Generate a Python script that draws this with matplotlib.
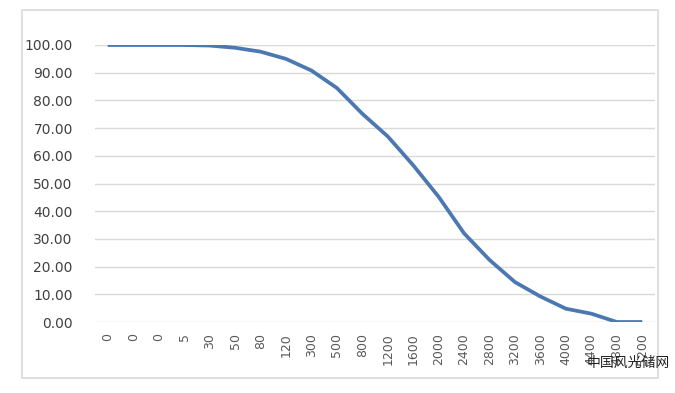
import matplotlib
matplotlib.use("Agg")
import matplotlib.pyplot as plt
from matplotlib.patches import Rectangle

categories = ["0", "0", "0", "5", "30", "50", "80", "120", "300", "500", "800",
              "1200", "1600", "2000", "2400", "2800", "3200", "3600", "4000",
              "4400", "4800", "5200"]
values = [100.0, 100.0, 100.0, 100.0, 99.8, 99.0, 97.6, 95.0, 90.8, 84.5, 75.2,
          67.0, 56.6, 45.2, 32.0, 22.4, 14.4, 9.2, 4.8, 3.0, 0.0, 0.0]
yticks = [0, 10, 20, 30, 40, 50, 60, 70, 80, 90, 100]

W, H = 675, 393
fig = plt.figure(figsize=(W / 100, H / 100), dpi=100)
fig.patch.set_facecolor("white")

# outer chart border
fig.add_artist(Rectangle((22 / W, 1 - 378 / H), (658 - 22) / W, (378 - 10) / H,
                         transform=fig.transFigure, fill=False,
                         edgecolor="#d9d9d9", linewidth=1.2))

ax = fig.add_axes([95 / W, 1 - 322 / H, (655 - 95) / W, (322 - 45) / H])
x = list(range(len(categories)))
ax.plot(x, values, color="#4c78b2", linewidth=2.7, solid_capstyle="butt", zorder=3)

ax.set_xlim(-0.5, len(categories) - 0.5)
ax.set_ylim(0, 100)
ax.set_yticks(yticks)
ax.set_yticklabels([f"{v:.2f}" for v in yticks], fontsize=10, color="#404040")
ax.set_xticks(x)
ax.set_xticklabels(categories, rotation=90, fontsize=9, color="#595959")
ax.tick_params(axis="both", length=0)
ax.tick_params(axis="y", pad=16)
ax.tick_params(axis="x", pad=8)
ax.yaxis.grid(True, color="#d9d9d9", linewidth=1)
ax.set_axisbelow(True)
for s in ax.spines.values():
    s.set_visible(False)

fig.text(628 / W, 1 - 363 / H, "中国风光储网", fontsize=10,
         family=["Noto Sans CJK SC", "DejaVu Sans"], color="#222222",
         ha="center", va="center")

fig.savefig("out.png", dpi=100, facecolor="white")
